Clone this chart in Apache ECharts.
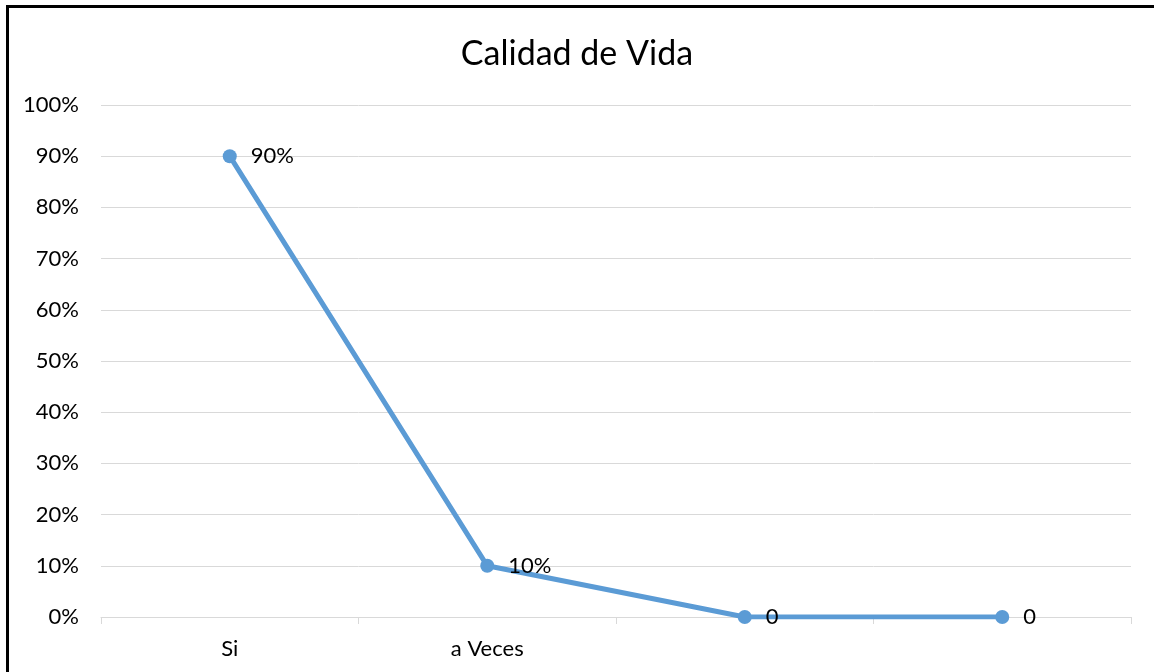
<!DOCTYPE html>
<html>
<head>
<meta charset="utf-8">
<script src="https://cdn.jsdelivr.net/npm/echarts@6/dist/echarts.min.js"></script>
<style>
    html, body { margin: 0; padding: 0; background: #fff; }
    #chart { width: 1154px; height: 672px; }
    /* marco del grafico */
    #marco { position: absolute; left: 6px; top: 5px; width: 1170px; height: 700px;
             border: 3px solid #000; pointer-events: none; }
</style>
</head>
<body>
<div id="chart"></div>
<div id="marco"></div>
<script>
    var categorias = ['Si', 'a Veces', '', ''];
    var valores = [0.9, 0.1, 0, 0];
    var etiquetas = ['90%', '10%', '0', '0'];

    var fuente = 'Lato, Carlito, "Open Sans", sans-serif';
    var myChart = echarts.init(document.getElementById('chart'));

    myChart.setOption({
        animation: false,
        title: {
            text: 'Calidad de Vida',
            left: 'center',
            top: 32,
            textStyle: { fontFamily: fuente, fontSize: 34, fontWeight: 'normal', color: '#000' }
        },
        grid: { left: 101, right: 23, top: 105, bottom: 55, containLabel: false },
        xAxis: {
            type: 'category',
            data: categorias,
            boundaryGap: true,
            axisLine: { lineStyle: { color: '#D9D9D9', width: 1 } },
            axisTick: { show: true, length: 7, alignWithLabel: false, lineStyle: { color: '#D9D9D9' } },
            axisLabel: { color: '#000', fontFamily: fuente, fontSize: 22, margin: 21 }
        },
        yAxis: {
            type: 'value',
            min: 0,
            max: 1,
            interval: 0.1,
            axisLine: { show: false },
            axisTick: { show: false },
            splitLine: { lineStyle: { color: '#D9D9D9', width: 1 } },
            axisLabel: {
                color: '#000', fontFamily: fuente, fontSize: 22, margin: 22,
                formatter: function (v) { return Math.round(v * 100) + '%'; }
            }
        },
        series: [{
            type: 'line',
            data: valores,
            symbol: 'circle',
            symbolSize: 14,
            lineStyle: { color: '#5B9BD5', width: 5 },
            itemStyle: { color: '#5B9BD5' },
            label: {
                show: true,
                position: 'right',
                distance: 14,
                color: '#000',
                fontFamily: fuente,
                fontSize: 22,
                formatter: function (p) { return etiquetas[p.dataIndex]; }
            }
        }]
    });
</script>
</body>
</html>
